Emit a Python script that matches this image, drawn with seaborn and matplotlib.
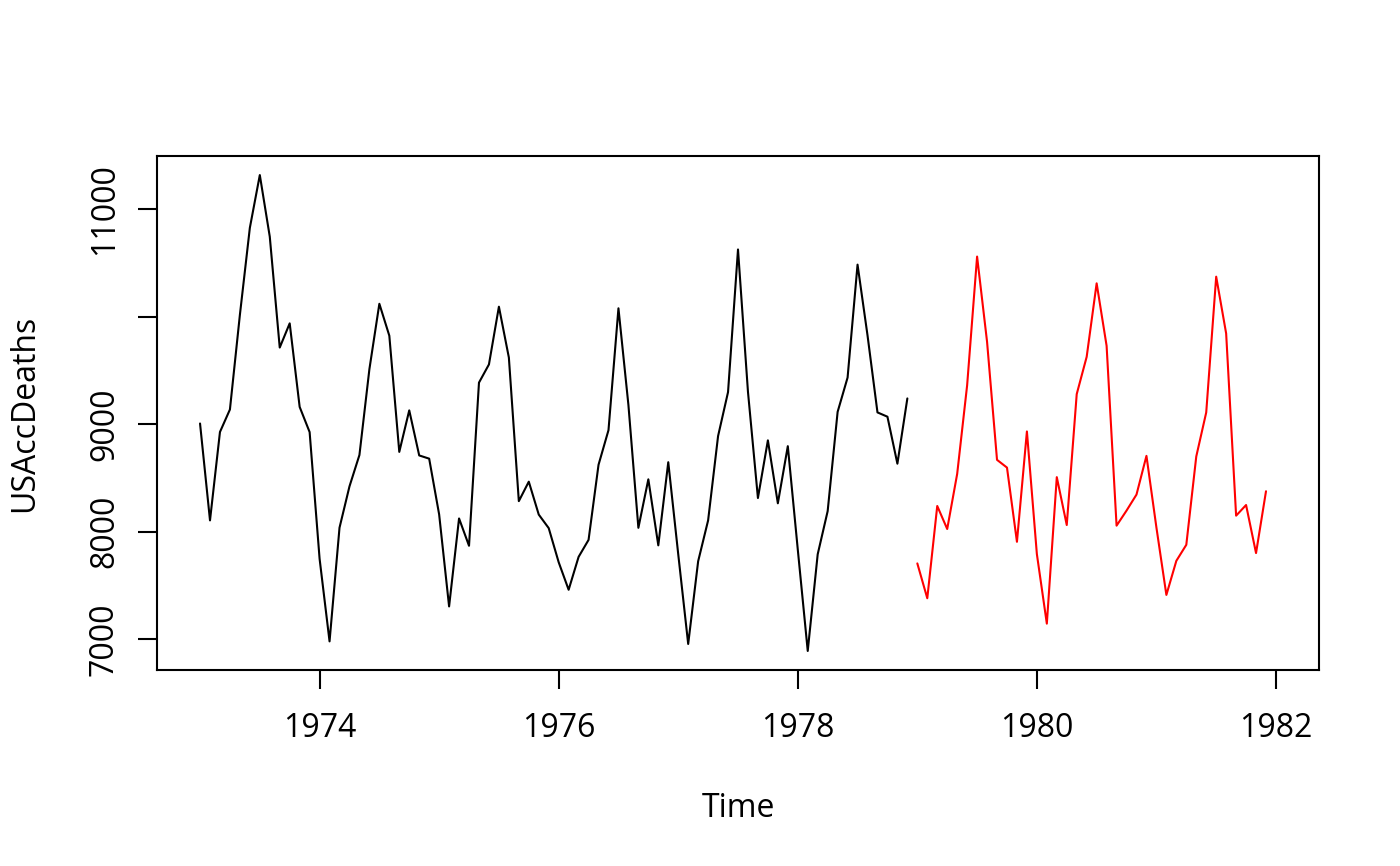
import numpy as np
import pandas as pd
import matplotlib
matplotlib.use("Agg")
import matplotlib.pyplot as plt
import seaborn as sns

# Observed USAccDeaths 1973-1978 (monthly)
observed = [9007, 8106, 8928, 9137, 10017, 10826, 11317, 10744, 9713, 9938, 9161, 8927,
            7750, 6981, 8038, 8422, 8714, 9512, 10120, 9823, 8743, 9129, 8710, 8680,
            8162, 7306, 8124, 7870, 9387, 9556, 10093, 9620, 8285, 8466, 8160, 8034,
            7717, 7461, 7767, 7925, 8623, 8945, 10078, 9179, 8037, 8488, 7874, 8647,
            7792, 6957, 7726, 8106, 8890, 9299, 10625, 9302, 8314, 8850, 8265, 8796,
            7836, 6892, 7791, 8192, 9115, 9434, 10484, 9827, 9110, 9070, 8633, 9240]
obs_start = 1973

# Forecast 1979-1981
forecast = [7706, 7382, 8240, 8026, 8538, 9362, 10559, 9767, 8669, 8597, 7907, 8933,
            7793, 7146, 8508, 8063, 9280, 9627, 10310, 9729, 8057, 8197, 8346, 8706,
            8040, 7413, 7730, 7879, 8700, 9110, 10372, 9844, 8150, 8249, 7802, 8377]
fc_start = 1979

x_ticks = [1974, 1976, 1978, 1980, 1982]
y_ticks = [7000, 8000, 9000, 10000, 11000]
y_ticklabels = ["7000", "8000", "9000", "", "11000"]

df_obs = pd.DataFrame({"Time": obs_start + np.arange(len(observed)) / 12.0,
                       "USAccDeaths": observed})
df_fc = pd.DataFrame({"Time": fc_start + np.arange(len(forecast)) / 12.0,
                      "USAccDeaths": forecast})

sns.set_theme(style="white")
plt.rcParams["font.family"] = ["Open Sans", "DejaVu Sans"]

fig = plt.figure(figsize=(14, 8.66), dpi=100)
ax = fig.add_axes([157 / 1400, 1 - 670 / 866, (1319 - 157) / 1400, (670 - 156) / 866])

sns.lineplot(data=df_obs, x="Time", y="USAccDeaths", ax=ax, color="black", linewidth=1.5)
sns.lineplot(data=df_fc, x="Time", y="USAccDeaths", ax=ax, color="red", linewidth=1.5)

ax.set_xlim(1972.64, 1982.36)
ax.set_ylim(6715, 11494)
ax.set_xticks(x_ticks)
ax.set_xticklabels([str(v) for v in x_ticks])
ax.set_yticks(y_ticks)
ax.set_yticklabels(y_ticklabels, rotation=90, va="center")

for s in ax.spines.values():
    s.set_color("black")
    s.set_linewidth(1.5)

ax.tick_params(axis="both", direction="out", length=14, width=1.5, color="black",
               labelsize=23, labelcolor="black", left=True, bottom=True)
ax.tick_params(axis="x", pad=16)
ax.tick_params(axis="y", pad=12)

ax.set_xlabel("Time", fontsize=23, color="black", labelpad=34)
ax.set_ylabel("USAccDeaths", fontsize=23, color="black", labelpad=34)

fig.savefig("out.png", dpi=100, facecolor="white")
